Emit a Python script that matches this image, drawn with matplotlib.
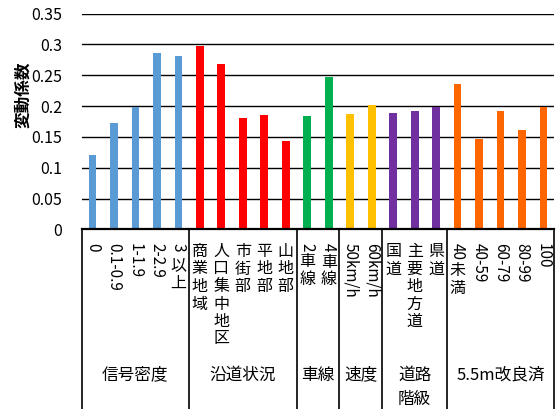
import matplotlib
matplotlib.use("Agg")
import matplotlib.pyplot as plt
import matplotlib.transforms as mtransforms
from matplotlib.lines import Line2D
import numpy as np

plt.rcParams['font.family'] = ['Noto Sans CJK JP', 'DejaVu Sans']

# ---- data ----
categories = ["0", "0.1-0.9", "1-1.9", "2-2.9", "3 以上",
              "商業地域", "人口集中地区", "市街部", "平地部", "山地部",
              "2車線", "4車線",
              "50km/h", "60km/h",
              "国道", "主要地方道", "県道",
              "40未満", "40-59", "60-79", "80-99", "100"]
values = [0.120, 0.172, 0.198, 0.286, 0.282,
          0.298, 0.269, 0.181, 0.185, 0.143,
          0.184, 0.248,
          0.187, 0.201,
          0.189, 0.192, 0.199,
          0.236, 0.147, 0.192, 0.161, 0.199]
group_names = ["信号密度", "沿道状況", "車線", "速度", "道路\n階級", "5.5m改良済"]
group_sizes = [5, 5, 2, 2, 3, 5]
group_colors = ["#5B9BD5", "#FF0000", "#00B050", "#FFC000", "#7030A0", "#FF6600"]
y_ticks = [0, 0.05, 0.1, 0.15, 0.2, 0.25, 0.3, 0.35]
y_label = "変動係数"

W, H = 556, 409
fig = plt.figure(figsize=(W / 100, H / 100), dpi=100)
ax_l, ax_r, ax_t, ax_b = 81.7, 554.3, 13.7, 229.3
ax = fig.add_axes([ax_l / W, 1 - ax_b / H, (ax_r - ax_l) / W, (ax_b - ax_t) / H])

bar_colors = []
for c, n in zip(group_colors, group_sizes):
    bar_colors += [c] * n
x = np.arange(len(categories))
ax.bar(x, values, width=0.36, color=bar_colors, zorder=2)

ax.set_xlim(-0.5, len(categories) - 0.5)
ax.set_ylim(0, 0.35)
ax.set_yticks(y_ticks)
ax.set_yticklabels(["%g" % v for v in y_ticks], fontsize=11.5)
ax.tick_params(axis='y', length=0, pad=14)
ax.set_xticks([])
ax.yaxis.grid(True, color='black', lw=1.0)
ax.set_axisbelow(True)
for s in ['left', 'right', 'top']:
    ax.spines[s].set_visible(False)
ax.spines['bottom'].set_linewidth(1.6)
ax.spines['bottom'].set_color('black')

fig.text(23 / W, 1 - 95 / H, y_label, rotation=90, ha='center', va='center',
         fontsize=12, fontweight='bold')

# ---- vertical category labels ----
renderer = fig.canvas.get_renderer()
trans = mtransforms.blended_transform_factory(ax.transData, fig.transFigure)


def is_cjk(ch):
    return ord(ch) >= 0x2E80


def split_runs(s):
    runs = []
    for ch in s:
        k = is_cjk(ch)
        if runs and runs[-1][0] == k:
            runs[-1][1] += ch
        else:
            runs.append([k, ch])
    return runs


PITCH = 17.5
FS = 11.5


def vtext(xv, top, s):
    y = top
    for k, run in split_runs(s):
        if k:
            for ch in run:
                ax.text(xv, 1 - y / H, ch, transform=trans, ha='center', va='top',
                        fontsize=FS, clip_on=False)
                y += PITCH
        else:
            t = ax.text(xv, 1 - y / H, run, transform=trans, ha='center', va='top',
                        rotation=-90, fontsize=FS - 0.5, clip_on=False)
            h = t.get_window_extent(renderer).height
            y += h + 2


for xi, lab in zip(x, categories):
    vtext(xi, 243, lab)

# ---- group separators and labels ----
sep_trans = mtransforms.blended_transform_factory(ax.transData, fig.transFigure)
start = 0
bounds = [-0.5]
for n in group_sizes:
    start += n
    bounds.append(start - 0.5)
for b in bounds:
    fig.add_artist(Line2D([b, b], [1 - ax_b / H, 0], transform=sep_trans,
                          color='black', lw=1.2))

start = 0
for name, n in zip(group_names, group_sizes):
    cx = start + (n - 1) / 2
    for li, line in enumerate(name.split("\n")):
        ax.text(cx, 1 - (375 + 24 * li) / H, line, transform=trans, ha='center',
                va='center', fontsize=12, clip_on=False)
    start += n

fig.savefig("out.png", dpi=100)
